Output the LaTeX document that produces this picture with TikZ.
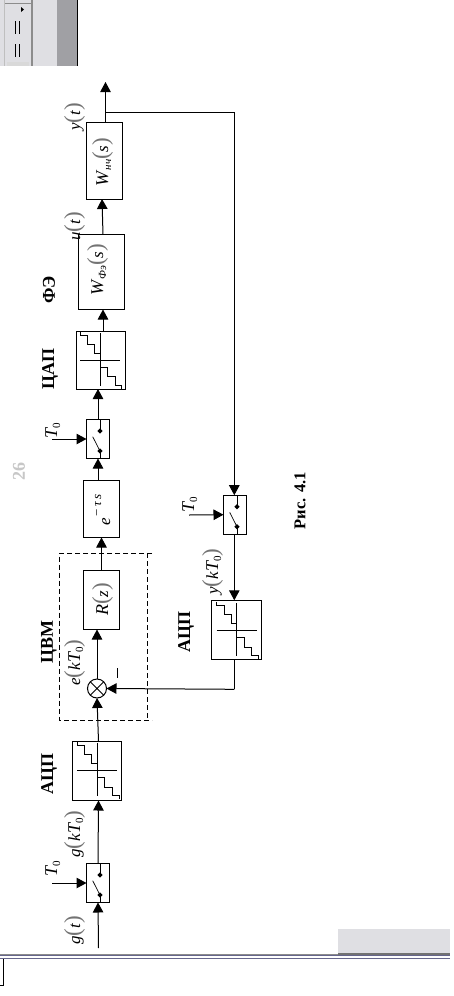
\documentclass[tikz,border=0pt]{standalone}
\usepackage{fontspec}
\setmainfont{Liberation Serif}
\usetikzlibrary{arrows.meta,calc}
\newcommand\lp{{\fontsize{23}{23}\selectfont\color{black!55}(}}
\newcommand\rp{{\fontsize{23}{23}\selectfont\color{black!55})}}
\newcommand\itl[1]{\textit{#1}}
\newcommand\sbs[1]{\raisebox{-3pt}{\fontsize{11}{11}\selectfont #1}}
\newcommand\Tz{{\fontsize{18}{18}\selectfont\itl{T}}\hspace{-1pt}\sbs{0}}
\tikzset{
 x=1pt,y=-1pt,
 blk/.style={draw,line width=1pt,inner sep=0pt,outer sep=0pt},
 conn/.style={line width=1pt,-{Triangle[length=10pt,width=10.5pt]}},
 plainline/.style={line width=1pt},
 mlab/.style={rotate=90,anchor=base west,inner sep=0pt,font=\fontsize{17}{17}\selectfont},
 blab/.style={rotate=90,anchor=center,inner sep=0pt,font=\fontsize{18}{18}\selectfont\bfseries},
 stair/.pic={
  \draw[line width=.9pt] (-20,0)--(20,0) (0,-27)--(0,26);
  \draw[line width=.9pt] (-20,-28.5)--(-20,-25)--(-12.7,-25)--(-12.7,-15.7)--(-5.7,-15.7)--(-5.7,-6.7)--(0.3,-6.7);
  \draw[line width=.9pt] (0.3,7.3)--(7.3,7.3)--(7.3,16.7)--(15,16.7)--(15,25.3)--(21.7,25.3)--(21.7,29);
 },
 swt/.pic={
  \draw[line width=1pt] (2,-19.5)--(2,-8) (2,12)--(2,19.5);
  \draw[line width=.7pt] (-5.3,-2.3)--(2,12);
  \fill (2,-10.7)--(4.7,-8)--(2,-5.3)--(-.7,-8)--cycle;
  \fill (2,9.3)--(4.7,12)--(2,14.7)--(-.7,12)--cycle;
 }
}
\definecolor{pan}{HTML}{DFDFE3}
\definecolor{pang}{HTML}{A0A0A4}
\begin{document}
\begin{tikzpicture}
\useasboundingbox (0,0) rectangle (454,996);
% window fragments
\fill[white] (0,0) rectangle (454,996);
\fill[pan] (0,0) rectangle (57,66);
\fill[pang] (57,0) rectangle (77,66);
\fill[black] (77,0) rectangle (78,66);
\fill[black!25] (4,0) rectangle (5,66);
\fill[black!45] (31,0) rectangle (33,66);
\fill[black!45] (5,3) rectangle (31,4);
\fill[black] (21,7)--(24,9.5)--(21,12)--cycle;
\draw[line width=.8pt] (15.5,21)--(15.5,34) (19,21)--(19,34) (15.5,44)--(15.5,57) (19,44)--(19,57);
\fill[black!15] (7,62) rectangle (29,66);
\fill[pan] (338,929) rectangle (450,953);
\fill[black!55] (338,953) rectangle (450,954.5);
\fill[black!45] (0,954) rectangle (338,955);
\fill[blue!25!black!60] (0,955) rectangle (450,956.3);
\fill[blue!25!black!60] (0,958) rectangle (450,959);
\fill[black] (2.5,959) rectangle (3.5,985);
\fill[black] (0,985) rectangle (3.5,986);
% blocks
\node[blk,minimum width=36pt,minimum height=76.5pt] (wn) at (104.5,160.75) {};
\node[blk,minimum width=46pt,minimum height=75pt] (wf) at (101.5,272) {};
\node[blk,minimum width=49pt,minimum height=57.5pt] (dac) at (101,360.25) {};
\node[blk,minimum width=23pt,minimum height=39pt] (s1) at (98,439) {};
\node[blk,minimum width=36pt,minimum height=57.5pt] (del) at (101.5,508.75) {};
\node[blk,minimum width=36pt,minimum height=59pt] (rz) at (101.5,600) {};
\node[draw,circle,line width=1pt,minimum size=19pt,inner sep=0pt,outer sep=0pt] (sum) at (97,688.5) {};
\draw[line width=.8pt] ($(sum.center)+(-6.7,-6.7)$) -- ($(sum.center)+(6.7,6.7)$) ($(sum.center)+(-6.7,6.7)$) -- ($(sum.center)+(6.7,-6.7)$);
\node[blk,minimum width=49pt,minimum height=59.5pt] (adc) at (97,770.75) {};
\node[blk,minimum width=23pt,minimum height=39pt] (s2) at (98,883) {};
\node[blk,minimum width=23pt,minimum height=39pt] (s3) at (235,514.7) {};
\node[blk,minimum width=50pt,minimum height=59pt] (adf) at (236.3,629.8) {};
\pic at (100,360) {stair};
\pic at (97.3,770.3) {stair};
\pic at (236.7,630.3) {stair};
\pic at (s1.center) {swt};
\pic at (s2.center) {swt};
\pic at (s3.center) {swt};
% dashed frame
\draw[line width=1pt,dash pattern=on 5pt off 3pt] (152,553)--(59.5,553)--(59.5,720)--(152,720);
\draw[line width=1pt,dash pattern=on 5pt off 3pt] (147.5,553)--(147.5,720);
% free ends
\coordinate (out) at (105.5,82);
\coordinate (jn) at (105.5,112);
\coordinate (cr) at (234.3,112);
\coordinate (in) at (98.5,948);
\coordinate (t1) at (52,439);
\coordinate (t2) at (52,883);
\coordinate (t3) at (189,515);
\coordinate (cb) at (234.3,689.3);
% connectors
\draw[conn] ([xshift=1pt]wn.north) -- (out);
\draw[plainline] (jn) -- (cr);
\draw[conn] (cr) -- ([xshift=-.7pt]s3.north);
\draw[conn] ([xshift=-.7pt]s3.south) -- ([xshift=-2pt]adf.north);
\draw[plainline] ([xshift=-2pt]adf.south) -- (cb);
\draw[conn] (cb) -- (sum.east);
\draw[conn] ([xshift=1.5pt]wf.north) -- ([xshift=-2.5pt]wn.south);
\draw[conn] ([xshift=2pt]dac.north) -- ([xshift=1.5pt]wf.south);
\draw[conn] (s1.north) -- ([xshift=-3pt]dac.south);
\draw[conn] ([xshift=-3.5pt]del.north) -- (s1.south);
\draw[conn] (rz.north) -- (del.south);
\draw[conn] (sum.north) -- (rz.south -| sum.north);
\draw[conn] ([xshift=1.5pt]adc.north) -- (sum.south);
\draw[conn] (s2.north) -- ([xshift=1.5pt]adc.south);
\draw[conn] (in) -- (s2.south);
\draw[conn] (t1) -- (s1.west);
\draw[conn] (t2) -- (s2.west);
\draw[conn] (t3) -- (s3.west);
\draw[plainline] (117.5,668) -- (117.5,678);
% labels
\node[mlab] (l1) at (80,131) {\itl{y}\lp\itl{t}\rp};
\node[mlab] (l2) at (80,241) {\itl{u}\lp\itl{t}\rp};
\node[mlab] (l3) at (80,945) {\itl{g}\lp\itl{t}\rp};
\node[mlab] (l4) at (80,858) {\itl{g}\lp\itl{k}\Tz\rp};
\node[mlab] (l5) at (80,686) {\itl{e}\lp\itl{k}\Tz\rp};
\node[mlab] (l6) at (218,595) {\itl{y}\lp\itl{k}\Tz\rp};
\node[mlab] (t1l) at (57,439) {\Tz};
\node[mlab] (t2l) at (57,877) {\Tz};
\node[mlab] (t3l) at (194,513) {\Tz};
\node[mlab] (wnl) at (108,187) {{\fontsize{18}{18}\selectfont\itl{W}}\sbs{\itl{нч}}\lp\itl{s}\rp};
\node[mlab] (wfl) at (103,296) {{\fontsize{18}{18}\selectfont\itl{W}}\sbs{\itl{Фэ}}\lp\itl{s}\rp};
\node[mlab] (rl) at (108,616) {{\fontsize{18}{18}\selectfont\itl{R}}\lp\itl{z}\rp};
\node[mlab] (dl) at (110,526) {\itl{e}\raisebox{9pt}{\fontsize{13}{13}\selectfont\,−\,\itl{τ}\,\itl{s}}};
\node[blab] (b1) at (50,369) {ЦАП};
\node[blab] (b2) at (49,290) {ФЭ};
\node[blab] (b3) at (49,642) {ЦВМ};
\node[blab] (b4) at (49,774) {АЦП};
\node[blab] (b5) at (186,632) {АЦП};
\node[blab,font=\fontsize{16.5}{16.5}\selectfont\bfseries] (b6) at (300,500.5) {Рис. 4.1};
\node[blab,text=black!22] (pg) at (19,471) {26};
\end{tikzpicture}
\end{document}
